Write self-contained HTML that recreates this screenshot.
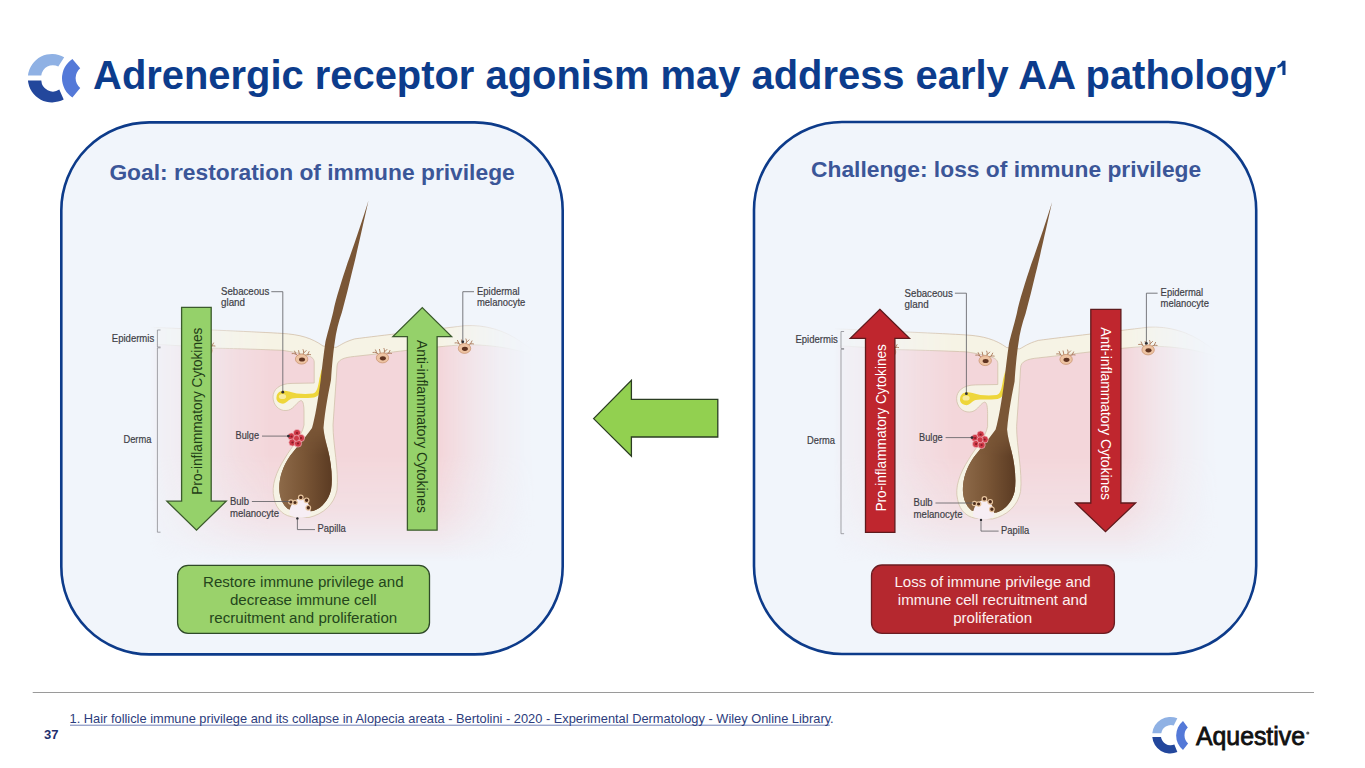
<!DOCTYPE html>
<html><head><meta charset="utf-8">
<style>
html,body{margin:0;padding:0;background:#ffffff;}
body{width:1365px;height:768px;overflow:hidden;position:relative;font-family:"Liberation Sans",sans-serif;}
svg{position:absolute;left:0;top:0;}
</style></head>
<body>
<svg width="1365" height="768" viewBox="0 0 1365 768" font-family="Liberation Sans, sans-serif">
<defs>
  <symbol id="logo" viewBox="0 0 36 36.2" preserveAspectRatio="none">
    <path fill="#8fb1e4" d="M0.1,16.2 A18.1 18.1 0 0 1 25.15,1.3 L21.6,8.4 A9.8 9.8 0 0 0 8.5,16.2 Z"/>
    <path fill="#23479c" d="M0.1,19.6 A18.1 18.1 0 0 0 25.15,34.9 L22.1,27.4 A9.8 9.8 0 0 1 8.5,19.6 Z"/>
    <path fill="#5479d8" d="M30.8,3.9 A18.77 18.77 0 0 0 30.8,32.9 L35.9,26.3 A10.76 10.76 0 0 1 35.6,10.5 Z"/>
  </symbol>
</defs>

<!-- title logo -->
<g>
<path fill="#8fb1e4" d="M27.94,75.6 A24.2,24.2 0 0 1 64.2,57.3 L58.3,66.6 A11.6,11.6 0 0 0 41.3,75.6 Z"/>
<path fill="#23479c" d="M27.92,80.6 A24.2,24.2 0 0 0 63.7,99.4 L59.3,89.6 A11.6,11.6 0 0 1 41.3,80.6 Z"/>
<path fill="#5479d8" d="M72.4,59.1 A22.83,22.83 0 0 0 72.4,97.4 L80.2,87.9 A12.73,12.73 0 0 1 80.2,68.3 Z"/>
</g>
<!-- title -->
<text x="93.1" y="89.3" font-size="39.9" font-weight="bold" fill="#0c3c8c">Adrenergic receptor agonism may address early AA pathology</text>
<path d="M1282.2,60.7 L1285.5,60.7 L1285.5,75 L1282.4,75 L1282.4,65.8 C1281,67 1279.3,67.8 1277.4,68.3 L1277.4,65.4 C1279.6,64.6 1281.4,63 1282.2,60.7 Z" fill="#0c3c8c"/>

<!-- panels -->
<rect x="61.3" y="122.4" width="501.4" height="532" rx="88" ry="88" fill="#f1f5fb" stroke="#0d3b8a" stroke-width="2.6"/>
<rect x="754" y="122" width="502.2" height="532" rx="88" ry="88" fill="#f1f5fb" stroke="#0d3b8a" stroke-width="2.6"/>

<text x="109.4" y="179.8" font-size="22.8" font-weight="bold" fill="#3b5698">Goal: restoration of immune privilege</text>
<text x="811" y="176.6" font-size="22.8" font-weight="bold" fill="#3b5698">Challenge: loss of immune privilege</text>

<!-- ILLUS START -->
<defs>
  <linearGradient id="gH" gradientUnits="userSpaceOnUse" x1="150" y1="0" x2="540" y2="0">
    <stop offset="0" stop-color="#000"/>
    <stop offset="0.0205" stop-color="#1f1f1f"/>
    <stop offset="0.09" stop-color="#4d4d4d"/>
    <stop offset="0.156" stop-color="#8c8c8c"/>
    <stop offset="0.231" stop-color="#cccccc"/>
    <stop offset="0.308" stop-color="#fff"/>
    <stop offset="0.744" stop-color="#fff"/>
    <stop offset="0.821" stop-color="#8c8c8c"/>
    <stop offset="0.897" stop-color="#333333"/>
    <stop offset="0.962" stop-color="#080808"/>
    <stop offset="0.987" stop-color="#000"/>
  </linearGradient>
  <linearGradient id="gV" gradientUnits="userSpaceOnUse" x1="0" y1="320" x2="0" y2="565">
    <stop offset="0" stop-color="#fff"/>
    <stop offset="0.551" stop-color="#fff"/>
    <stop offset="0.776" stop-color="#b3b3b3"/>
    <stop offset="0.878" stop-color="#666666"/>
    <stop offset="0.959" stop-color="#1a1a1a"/>
    <stop offset="0.988" stop-color="#000"/>
  </linearGradient>
  <mask id="mH" maskUnits="userSpaceOnUse" x="100" y="150" width="480" height="450"><rect x="100" y="150" width="480" height="450" fill="url(#gH)"/></mask>
  <mask id="mV" maskUnits="userSpaceOnUse" x="100" y="150" width="480" height="450"><rect x="100" y="150" width="480" height="450" fill="url(#gV)"/></mask>
  <linearGradient id="hairG" gradientUnits="userSpaceOnUse" x1="279" y1="0" x2="333" y2="0">
    <stop offset="0" stop-color="#8d6a49"/>
    <stop offset="0.45" stop-color="#7a5636"/>
    <stop offset="1" stop-color="#5a3a22"/>
  </linearGradient>
  <linearGradient id="gBulb" gradientUnits="userSpaceOnUse" x1="0" y1="428" x2="0" y2="455"><stop offset="0" stop-color="#000"/><stop offset="1" stop-color="#fff"/></linearGradient>
  <mask id="mBulb" maskUnits="userSpaceOnUse" x="260" y="420" width="90" height="100"><rect x="260" y="420" width="90" height="100" fill="url(#gBulb)"/></mask>
  <g id="melano">
    <path d="M-3.5,-3 C-5,-5 -7,-6 -9.5,-5.5 M-5.5,-4.6 L-7,-8 M-2,-3.8 L-3,-8.5 M1.5,-4 C1.8,-6 2.5,-7.5 1.5,-9.5 M2,-6 L4.5,-8.5 M3.5,-3.5 C5,-4.5 7,-5 9,-4.5 M6,-4.6 L7.5,-7.5" stroke="#a9785a" stroke-width="0.9" fill="none" stroke-linecap="round"/>
    <ellipse cx="0" cy="0" rx="6.2" ry="5" fill="#edc3a2" stroke="#c58f6c" stroke-width="0.7"/>
    <ellipse cx="0.4" cy="0.4" rx="3" ry="2.1" fill="#5f3320"/>
  </g>
</defs>
<g id="illus">
  <g mask="url(#mH)">
    <g mask="url(#mV)">
      <path d="M150,327.2 C200,329.5 260,332 281.9,333.4 C300,334.5 312,338 323,346 L336,347.4 C341,345 344,342 354.7,338.9 C380,335.5 430,330 464.5,325.7 C485,324.5 505,330 523.2,343.3 L540,352 L540,565 L150,565 Z" fill="#f3d6da"/>
    </g>
    <path d="M150,327.2 C200,329.5 260,332 281.9,333.4 C300,334.5 312,338 323,346 L336,347.4 C341,345 344,342 354.7,338.9 C380,335.5 430,330 464.5,325.7 C485,324.5 505,330 523.2,343.3 L535,352 L535,356 C520,350 495,344.5 464.5,344.7 C430,347 400,351.5 354.7,356.4 C343,357.5 337.5,360 337,366 L336.5,375 L333,425 C333,445 339,470 337,490 C334,505 323,514 309,517.5 L295,517 C285,517 276,510 274,498 C271,486 276,472 285,458 C292,446 302,436 304,425 L304,412 C304,405 303,399 300,401 C296,403 293,410.5 286,410.5 C279,411 273,405 273,397 C273,390 279,383.4 292,383.4 L314.2,383 L314.2,362 C314,358 311,356.5 306,355 C295,352 282,350.3 281.9,350.3 C250,349 230,348.5 211.5,348.1 C190,346.5 170,345 150,344 Z" fill="#f6f3e5" stroke="#d2c2ab" stroke-width="0.8"/>
  </g>
  <!-- sebaceous yellow -->
  <path d="M276.5,397 C277,391 283,389.5 289,391.5 C296,394 305,394.5 313,393.5 C316.5,393 318,388 319.5,378 L321.8,369 L322.8,379 C321.5,390 320,396.5 314,397.5 C306,398.5 298,397.5 292,398.5 C288,399.5 286,404.5 281.5,403.5 C277.5,402.5 276,400 276.5,397 Z" fill="#eed63a"/>
  <ellipse cx="282.5" cy="396.5" rx="3.6" ry="2.6" fill="#f7eba0"/>
  <!-- hair -->
  <path d="M368.5,200.6 C362,222 353,248 347.5,263 C342,280 336,298 333.2,312 C330,325 327,335 325.4,342 C323.5,355 322,368 320.7,380 C318,400 315,418 312,428 C305,438 296,448 290,456 C283,466 279,478 279.3,489 C279.5,498 283,505 288,509 L300,512 L313,511 C320,509 328,502 331,490 C333,478 331,462 328,450 C326,442 324,435 323.5,428 C325,410 329,390 331,380 C332,365 333.5,350 334.8,342 C336,332 338.5,322 342,312 C345.5,299 349,285 351.8,273 C356,257 363,225 368.5,200.6 Z" fill="#7a5636"/>
  <path mask="url(#mBulb)" d="M312,428 C305,438 296,448 290,456 C283,466 279,478 279.3,489 C279.5,498 283,505 288,509 L300,512 L313,511 C320,509 328,502 331,490 C333,478 331,462 328,450 C326,442 324,435 323.5,428 Z" fill="url(#hairG)"/>
  <!-- papilla -->
  <path d="M289.5,514 C289,506 294,499 300.5,498.5 C307,499 311,506 310.5,514 C309,519 292,519 289.5,514 Z" fill="#f7eef4"/>
  <g fill="#4e2c1a" stroke="#e6c49e" stroke-width="1.2">
    <circle cx="290.9" cy="502" r="2.2"/><circle cx="295" cy="502.5" r="2.2"/><circle cx="300.8" cy="497.4" r="2.3"/><circle cx="306.6" cy="500.3" r="2.3"/><circle cx="308.3" cy="507.8" r="2.3"/>
  </g>
  <!-- bulge -->
  <g stroke="#f0b8bf" stroke-width="0.7" fill="#cf3a48">
    <circle cx="291.5" cy="436.5" r="3.6"/><circle cx="297" cy="433" r="3.6"/><circle cx="301" cy="438" r="3.6"/><circle cx="292.5" cy="442.5" r="3.6"/><circle cx="298" cy="443.5" r="3.6"/><circle cx="296.5" cy="438.3" r="3"/>
  </g>
  <g fill="#8a1a26"><circle cx="291.5" cy="436.5" r="1.1"/><circle cx="297" cy="433" r="1.1"/><circle cx="301" cy="438" r="1.1"/><circle cx="292.5" cy="442.5" r="1.1"/><circle cx="298" cy="443.5" r="1.1"/></g>
  <!-- melanocytes -->
  <use href="#melano" transform="translate(206,350.5)"/>
  <use href="#melano" transform="translate(301.6,359.1)"/>
  <use href="#melano" transform="translate(382.5,357.9)"/>
  <use href="#melano" transform="translate(464.5,348.4)"/>
  <!-- brackets -->
  <path d="M160.5,330 L157.4,330 L157.4,347 L160.5,347 M160.5,347.8 L157.4,347.8 L157.4,532.2 L160.5,532.2" fill="none" stroke="#8c8c92" stroke-width="0.8"/>
  <!-- leaders -->
  <g fill="none" stroke="#5a5a60" stroke-width="0.8">
    <path d="M271.3,291.7 L282.8,291.7 L282.8,392.2"/>
    <path d="M474,291.7 L462.8,291.7 L462.8,341.8"/>
    <path d="M262,436.1 L288.4,436.1"/>
    <path d="M251.9,501.5 L290.2,501.5"/>
    <path d="M297.4,518.4 L297.4,529.6 L315,529.6"/>
  </g>
  <g fill="#2e2e34"><circle cx="282.8" cy="392.2" r="1.4"/><circle cx="462.8" cy="341.8" r="1.4"/><circle cx="288.4" cy="436.1" r="1.4"/><circle cx="297.4" cy="518.4" r="1.2"/></g>
  <!-- labels -->
  <g font-size="11" fill="#3e3e46" stroke="#3e3e46" stroke-width="0.2">
    <text x="221" y="295" textLength="48.2" lengthAdjust="spacingAndGlyphs">Sebaceous</text>
    <text x="221" y="306.4" textLength="24" lengthAdjust="spacingAndGlyphs">gland</text>
    <text x="111.8" y="341.9" textLength="42.4" lengthAdjust="spacingAndGlyphs">Epidermis</text>
    <text x="123.4" y="442.8" textLength="28" lengthAdjust="spacingAndGlyphs">Derma</text>
    <text x="235.5" y="439" textLength="23.5" lengthAdjust="spacingAndGlyphs">Bulge</text>
    <text x="230" y="504.7" textLength="19" lengthAdjust="spacingAndGlyphs">Bulb</text>
    <text x="230" y="516.6" textLength="49" lengthAdjust="spacingAndGlyphs">melanocyte</text>
    <text x="317.5" y="532" textLength="28.2" lengthAdjust="spacingAndGlyphs">Papilla</text>
    <text x="477" y="294.9" textLength="42.5" lengthAdjust="spacingAndGlyphs">Epidermal</text>
    <text x="477" y="305.9" textLength="48.3" lengthAdjust="spacingAndGlyphs">melanocyte</text>
  </g>
</g>
<use href="#illus" transform="translate(683.6,1.5)"/>
<!-- ILLUS END -->
<!-- middle arrow -->
<path d="M593.6,418.6 L631.4,380.3 L631.4,399.4 L717.8,399.4 L717.8,437 L631.4,437 L631.4,456.1 Z" fill="#92d050" stroke="#2b3d22" stroke-width="1.3"/>

<!-- left panel arrows -->
<path d="M181.6,307.3 L211.2,307.3 L211.2,501.2 L226.2,501.2 L196.5,530.2 L166.9,501.2 L181.6,501.2 Z" fill="#95d16a" stroke="#3b5a2c" stroke-width="1.3"/>
<path d="M422.3,307.6 L451.6,336.6 L437.1,336.6 L437.1,530.2 L407.4,530.2 L407.4,336.6 L392.9,336.6 Z" fill="#95d16a" stroke="#3b5a2c" stroke-width="1.3"/>
<text transform="translate(201.8,494.7) rotate(-90)" font-size="14" fill="#1f3d16" textLength="167" lengthAdjust="spacingAndGlyphs">Pro-inflammatory Cytokines</text>
<text transform="translate(417.3,340) rotate(90)" font-size="14" fill="#1f3d16" textLength="173" lengthAdjust="spacingAndGlyphs">Anti-inflammatory Cytokines</text>

<!-- right panel arrows -->
<path d="M879.8,309.3 L909.5,338.4 L894.9,338.4 L894.9,532.4 L865.5,532.4 L865.5,338.4 L850.3,338.4 Z" fill="#bf262e" stroke="#5e1a1c" stroke-width="1.3"/>
<path d="M1090.8,309.3 L1120.9,309.3 L1120.9,503 L1135.6,503 L1105.5,531.7 L1075.5,503 L1090.8,503 Z" fill="#bf262e" stroke="#5e1a1c" stroke-width="1.3"/>
<text transform="translate(885.8,511.6) rotate(-90)" font-size="14" fill="#ffffff" textLength="167.5" lengthAdjust="spacingAndGlyphs">Pro-inflammatory Cytokines</text>
<text transform="translate(1100.8,327.2) rotate(90)" font-size="14" fill="#ffffff" textLength="172.7" lengthAdjust="spacingAndGlyphs">Anti-inflammatory Cytokines</text>

<!-- bottom boxes -->
<rect x="177.6" y="565.3" width="251.9" height="68" rx="10.5" fill="#9ad26b" stroke="#2f4a28" stroke-width="1.3"/>
<g font-size="15.1" fill="#24461c" text-anchor="middle">
<text x="303.3" y="586.9">Restore immune privilege and</text>
<text x="303.3" y="605">decrease immune cell</text>
<text x="303.3" y="623">recruitment and proliferation</text>
</g>
<rect x="871.5" y="565" width="242.9" height="68.3" rx="10.5" fill="#b5282f" stroke="#6b1d22" stroke-width="1.3"/>
<g font-size="15.1" fill="#fdf0f0" text-anchor="middle">
<text x="992.6" y="586.9">Loss of immune privilege and</text>
<text x="992.6" y="605">immune cell recruitment and</text>
<text x="992.6" y="623">proliferation</text>
</g>

<!-- footer -->
<line x1="32.7" y1="692.5" x2="1314" y2="692.5" stroke="#9a9a9a" stroke-width="1.2"/>
<text x="44" y="738.8" font-size="13" font-weight="bold" fill="#1f2f6e">37</text>
<line x1="70" y1="725.2" x2="829.8" y2="725.2" stroke="#6f7fb5" stroke-width="1"/>
<text x="69.6" y="722.9" font-size="12.83" fill="#2c3c7c">1. Hair follicle immune privilege and its collapse in Alopecia areata - Bertolini - 2020 - Experimental Dermatology - Wiley Online Library.</text>

<g>
<path fill="#8fb1e4" d="M1152.3,733.3 A18.1,18.1 0 0 1 1177.35,718.3 L1173.75,725.5 A9.8,9.8 0 0 0 1161.3,733.3 Z"/>
<path fill="#23479c" d="M1152.3,736.9 A18.1,18.1 0 0 0 1177.35,752.1 L1174.35,744.6 A9.8,9.8 0 0 1 1161.0,736.9 Z"/>
<path fill="#5479d8" d="M1183,721 A18.77,18.77 0 0 0 1183,750 L1188.1,743.4 A10.76,10.76 0 0 1 1187.8,727.6 Z"/>
</g>
<text x="1196" y="744.5" font-size="25" fill="#111111" stroke="#111111" stroke-width="0.8" textLength="109" lengthAdjust="spacingAndGlyphs">Aquestive</text><circle cx="1307.8" cy="733" r="1.6" fill="#555"/>
</svg>
</body></html>
